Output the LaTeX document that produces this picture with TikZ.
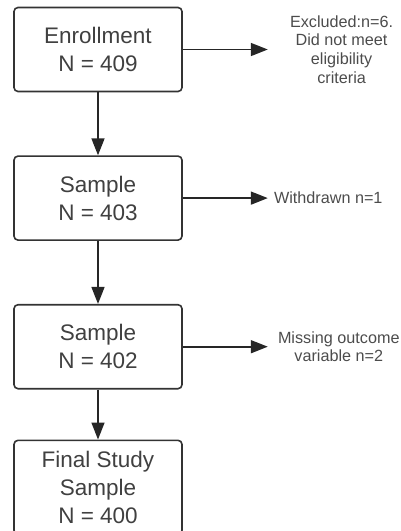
\documentclass[tikz,border=0pt]{standalone}
\usepackage{fontspec}
\setmainfont{Liberation Sans}
\usetikzlibrary{positioning}
\usetikzlibrary{arrows.meta}

\begin{document}
\begin{tikzpicture}[
stage/.style={
	% The shape:
	rectangle,rounded corners=4pt,
	% The size:
	minimum width=168pt,minimum height=84pt,
	% The border:
	line width=1.6pt,draw=black!80,
	% Font
	font=\fontsize{22.5pt}{28pt}\selectfont,text=black!75,align=center},
note/.style={
	% no border, just text
	inner sep=0pt,align=center,
	font=\fontsize{16.2pt}{18.6pt}\selectfont,text=black!70},
flow/.style={-{Triangle[length=17pt,width=13pt]},line width=1.6pt,draw=black!85},
node distance=63pt,
]

\useasboundingbox (0,0) rectangle (400pt,-531pt);

% main column
\node (enroll) [stage] at (98pt,-49.5pt) {Enrollment\\N = 409};
\node (sample1) [stage,below=of enroll] {Sample\\N = 403};
\node (sample2) [stage,below=of sample1] {Sample\\N = 402};
\node (final) [stage,minimum height=94pt,below=50pt of sample2] {Final Study\\Sample\\N = 400};

\draw[flow] (enroll) -- (sample1);
\draw[flow] (sample1) -- (sample2);
\draw[flow] (sample2) -- (final);

% exclusions on the right
\coordinate [right=85pt of enroll] (excl tip);
\node (excluded) [note,right=22pt of excl tip] {Excluded:n=6.\\Did not meet\\eligibility\\criteria};
\draw[flow] (enroll) -- (excl tip);

\coordinate [right=85pt of sample1] (wd tip);
\node (withdrawn) [note,right=6pt of wd tip] {Withdrawn n=1};
\draw[flow] (sample1) -- (wd tip);

\coordinate [right=85pt of sample2] (miss tip);
\node (missing) [note,right=10pt of miss tip] {Missing outcome\\variable n=2};
\draw[flow] (sample2) -- (miss tip);

\end{tikzpicture}
\end{document}
